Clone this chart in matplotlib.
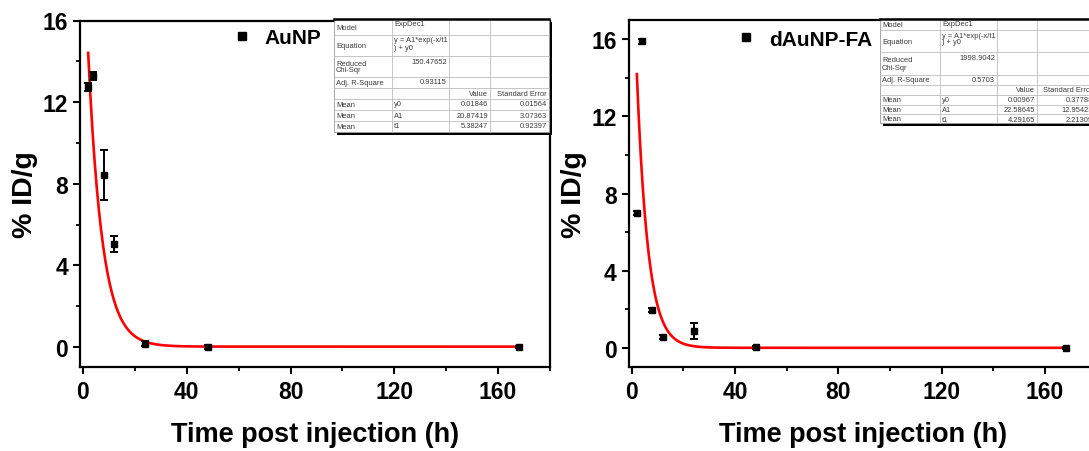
import numpy as np
import matplotlib
matplotlib.use("Agg")
import matplotlib.pyplot as plt
from matplotlib.ticker import MultipleLocator
from matplotlib.lines import Line2D
from matplotlib.patches import Rectangle

plt.rcParams['font.family'] = ['Liberation Sans', 'DejaVu Sans']

# ---- biodistribution data (% ID/g vs time) ----
time_h = [2, 4, 8, 12, 24, 48, 168]

aunp_id = [12.75, 13.3, 8.41, 5.04, 0.15, 0.02, 0.02]
aunp_err = [0.2, 0.2, 1.23, 0.4, 0.12, 0.1, 0.05]

daunp_id = [7.0, 15.88, 1.98, 0.57, 0.86, 0.04, 0.02]
daunp_err = [0.1, 0.12, 0.1, 0.08, 0.42, 0.08, 0.05]

# ---- ExpDec1 fit results: y = A1*exp(-x/t1) + y0 ----
fit_names = ["y0", "A1", "t1"]
aunp_fit_values = [0.01846, 20.87419, 5.38247]
aunp_fit_errors = [0.01564, 3.07363, 0.92397]
aunp_chisqr = "150.47652"
aunp_adj_r2 = "0.93115"

daunp_fit_values = [0.00967, 22.58645, 4.29165]
daunp_fit_errors = [0.37788, 12.95423, 2.21309]
daunp_chisqr = "1998.9042"
daunp_adj_r2 = "0.5703"

legend_labels = ["AuNP", "dAuNP-FA"]
x_ticks = [0, 40, 80, 120, 160]
y_ticks = [0, 4, 8, 12, 16]

W, H = 1089, 452
fig = plt.figure(figsize=(W / 100, H / 100), dpi=100)


def fig_rect(x0, y0, x1, y1):
    """Pixel box (top-left origin) -> figure fraction rect."""
    return [x0 / W, 1 - y1 / H, (x1 - x0) / W, (y1 - y0) / H]


def expdec(x, y0, a1, t1):
    return a1 * np.exp(-np.asarray(x) / t1) + y0


def style_axes(ax, ylim):
    ax.set_xlim(-1, 180)
    ax.set_ylim(*ylim)
    ax.set_xticks(x_ticks)
    ax.set_yticks(y_ticks)
    ax.xaxis.set_minor_locator(MultipleLocator(20))
    ax.yaxis.set_minor_locator(MultipleLocator(2))
    for s in ax.spines.values():
        s.set_linewidth(1.6)
    ax.tick_params(which='major', direction='out', length=5, width=1.5,
                   labelsize=16.5, top=False, right=False, pad=4)
    ax.tick_params(which='minor', direction='out', length=3, width=1.3,
                   top=False, right=False)
    for lab in ax.get_xticklabels() + ax.get_yticklabels():
        lab.set_fontweight('bold')
    ax.set_xlabel("Time post injection (h)", fontsize=19.5, fontweight='bold',
                  labelpad=13)
    ax.set_ylabel("% ID/g", fontsize=20.5, fontweight='bold', labelpad=3)


def panel(ax, y, yerr, fit, label, ylim, leg_xy):
    style_axes(ax, ylim)
    xs = np.linspace(2, 168, 600)
    ax.plot(xs, expdec(xs, *fit), color='#ff0000', lw=1.9, zorder=2)
    ax.errorbar(time_h, y, yerr=yerr, fmt='s', color='black', ms=5,
                elinewidth=1.4, capsize=3, capthick=1.4, zorder=3)
    handle = Line2D([], [], ls='none', marker='s', color='black', ms=6)
    ax.legend([handle], [label], loc='center left', frameon=False,
              bbox_to_anchor=(leg_xy[0] / W, 1 - leg_xy[1] / H),
              bbox_transform=fig.transFigure, borderpad=0, borderaxespad=0,
              handlelength=0.8, handletextpad=0.7,
              prop={'size': 15, 'weight': 'bold'})


def fit_table(xcols, yrows, cells):
    x0, x1 = xcols[0], xcols[-1]
    y0, y1 = yrows[0], yrows[-1]
    # drop shadow + white body
    fig.add_artist(Rectangle((x0 / W + 2.5 / W, 1 - (y1 + 2.5) / H),
                             (x1 - x0) / W, (y1 - y0) / H,
                             transform=fig.transFigure, facecolor='black',
                             edgecolor='none', zorder=5))
    fig.add_artist(Rectangle((x0 / W, 1 - y1 / H), (x1 - x0) / W, (y1 - y0) / H,
                             transform=fig.transFigure, facecolor='white',
                             edgecolor='#9a9a9a', lw=0.6, zorder=6))
    grid_kw = dict(transform=fig.transFigure, color='#bdbdbd', lw=0.6, zorder=7)
    for yy in yrows[1:-1]:
        fig.add_artist(Line2D([x0 / W, x1 / W], [1 - yy / H] * 2, **grid_kw))
    for xx in xcols[1:-1]:
        fig.add_artist(Line2D([xx / W] * 2, [1 - y0 / H, 1 - y1 / H], **grid_kw))
    fig.add_artist(Line2D([x0 / W, x1 / W], [1 - y0 / H] * 2,
                          transform=fig.transFigure, color='black', lw=1.8,
                          zorder=8))
    for r, row in enumerate(cells):
        top, bot = yrows[r], yrows[r + 1]
        for c, txt in enumerate(row):
            if not txt:
                continue
            left, right = xcols[c], xcols[c + 1]
            if c >= 2 or (c == 1 and r in (2, 3)):
                fig.text((right - 2) / W, 1 - (top + 1.5) / H, txt,
                         ha='right', va='top', fontsize=5.4, color='#3a3a3a',
                         zorder=9)
            elif c == 1:
                fig.text((left + 2) / W, 1 - (top + 1.5) / H, txt,
                         ha='left', va='top', fontsize=5.4, color='#3a3a3a',
                         linespacing=1.0, zorder=9)
            else:
                fig.text((left + 2) / W, 1 - (top + bot) / 2 / H, txt,
                         ha='left', va='center', fontsize=5.4, color='#3a3a3a',
                         linespacing=1.0, zorder=9)


def table_cells(chisqr, adj, vals, errs):
    rows = [["Model", "ExpDec1", "", ""],
            ["Equation", "y = A1*exp(-x/t1\n) + y0", "", ""],
            ["Reduced\nChi-Sqr", chisqr, "", ""],
            ["Adj. R-Square", adj, "", ""],
            ["", "", "Value", "Standard Error"]]
    for n, v, e in zip(fit_names, vals, errs):
        rows.append(["Mean", n, f"{v:.5f}", f"{e:.5f}"])
    return rows


ax1 = fig.add_axes(fig_rect(80.4, 21.5, 550, 368.4))
panel(ax1, aunp_id, aunp_err, aunp_fit_values, legend_labels[0], (-1, 16),
      (233.4, 38.3))

ax2 = fig.add_axes(fig_rect(629.1, 20.7, 1096.6, 368.3))
panel(ax2, daunp_id, daunp_err, daunp_fit_values, legend_labels[1], (-1, 17),
      (737.4, 40))

fit_table([334, 392, 449, 490, 549],
          [20, 36, 57, 78, 89, 100, 111, 122, 133],
          table_cells(aunp_chisqr, aunp_adj_r2, aunp_fit_values,
                      aunp_fit_errors))
fit_table([880, 940, 997, 1037, 1095],
          [20, 31, 53, 76, 86, 96, 106, 115, 124],
          table_cells(daunp_chisqr, daunp_adj_r2, daunp_fit_values,
                      daunp_fit_errors))

fig.savefig("out.png", dpi=100, facecolor='white')
